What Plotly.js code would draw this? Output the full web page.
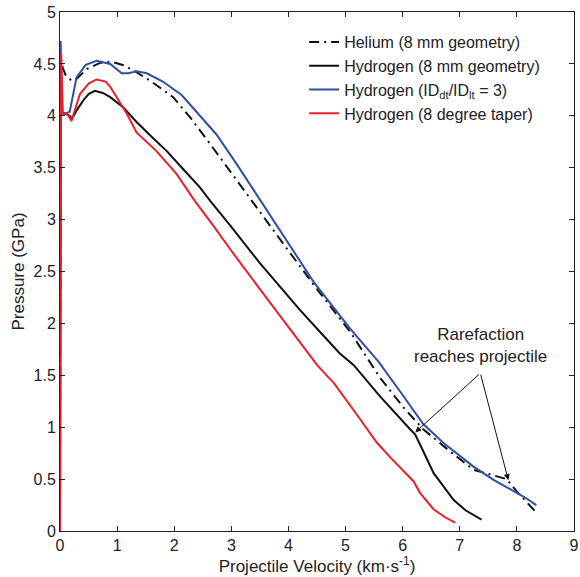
<!DOCTYPE html>
<html><head><meta charset="utf-8">
<script src="https://cdn.plot.ly/plotly-3.0.1.min.js"></script>
<style>html,body{margin:0;padding:0;background:#fff}#chart{width:580px;height:577px}</style>
</head><body><div id="chart"></div>
<script>
// Helium (8 mm geometry), dash-dot
const heV = [0, 0.01, 0.05, 0.1, 0.2, 0.3, 0.47, 0.7, 0.9, 1.1, 1.28, 1.6, 1.98, 2.3, 2.68, 3.0, 3.27, 3.6, 4.0, 4.5, 5.08, 5.6, 6.0, 6.36, 6.8, 7.24, 7.6, 7.82, 8.0, 8.15, 8.32];
const heP = [0, 4.57, 4.46, 4.39, 4.34, 4.36, 4.45, 4.51, 4.52, 4.49, 4.44, 4.33, 4.18, 3.97, 3.69, 3.45, 3.24, 2.99, 2.70, 2.33, 1.92, 1.48, 1.20, 0.98, 0.78, 0.59, 0.53, 0.50, 0.38, 0.29, 0.19];
// Hydrogen (8 mm geometry), solid black
const h8V = [0, 0.01, 0.03, 0.1, 0.17, 0.21, 0.3, 0.41, 0.5, 0.61, 0.75, 0.88, 1.11, 1.34, 1.6, 1.87, 2.15, 2.45, 2.63, 3.0, 3.5, 4.0, 4.2, 4.55, 4.9, 5.14, 5.6, 6.13, 6.22, 6.35, 6.54, 6.89, 7.1, 7.38];
const h8P = [0, 4.02, 4.03, 4.02, 4.00, 3.97, 4.06, 4.15, 4.21, 4.24, 4.22, 4.18, 4.08, 3.94, 3.80, 3.66, 3.49, 3.31, 3.18, 2.93, 2.58, 2.26, 2.13, 1.92, 1.71, 1.60, 1.30, 0.98, 0.93, 0.78, 0.56, 0.30, 0.20, 0.11];
// Hydrogen (ID_dt/ID_lt = 3), blue
const hidV = [0, 0.01, 0.04, 0.1, 0.17, 0.29, 0.45, 0.64, 0.88, 1.08, 1.2, 1.34, 1.52, 1.8, 2.13, 2.4, 2.74, 3.1, 3.44, 3.9, 4.44, 5.08, 5.58, 6.0, 6.36, 6.71, 7.24, 7.6, 7.94, 8.15, 8.34];
const hidP = [0, 4.72, 4.03, 4.02, 4.04, 4.37, 4.49, 4.53, 4.50, 4.41, 4.41, 4.43, 4.41, 4.33, 4.20, 4.03, 3.82, 3.53, 3.24, 2.85, 2.40, 1.95, 1.63, 1.31, 1.03, 0.85, 0.62, 0.49, 0.38, 0.32, 0.25];
// Hydrogen (8 degree taper), red
const htV = [0, 0.01, 0.02, 0.05, 0.1, 0.15, 0.2, 0.35, 0.5, 0.64, 0.8, 0.88, 0.99, 1.17, 1.34, 1.69, 2.04, 2.36, 2.7, 3.0, 3.5, 4.0, 4.2, 4.5, 4.7, 4.79, 5.2, 5.55, 5.8, 6.0, 6.19, 6.3, 6.54, 6.75, 6.92];
const htP = [0, 4.45, 4.60, 4.02, 4.02, 4.00, 3.95, 4.21, 4.31, 4.35, 4.33, 4.28, 4.18, 4.02, 3.84, 3.66, 3.44, 3.18, 2.93, 2.70, 2.33, 1.97, 1.82, 1.60, 1.48, 1.43, 1.12, 0.85, 0.70, 0.59, 0.48, 0.37, 0.21, 0.13, 0.08];

const names = ['Helium (8 mm geometry)', 'Hydrogen (8 mm geometry)', 'Hydrogen (ID<sub>dt</sub>/ID<sub>lt</sub> = 3)', 'Hydrogen (8 degree taper)'];
const xTicks = [0,1,2,3,4,5,6,7,8,9];
const yTicks = [0,0.5,1,1.5,2,2.5,3,3.5,4,4.5,5];
const yTickText = ['0','0.5','1','1.5','2','2.5','3','3.5','4','4.5','5'];
const noteText = 'Rarefaction<br>reaches projectile';
const noteX = 7.36, noteY = 1.79;
const arrowFrom = [7.36, 1.52];
const arrowHeads = [[6.22, 0.95], [7.85, 0.49]];

const FONT = 'Liberation Sans, Arial, sans-serif';
const traces = [
  {x: heV, y: heP, name: names[0], mode: 'lines', line: {color: '#111', width: 2, dash: '10px,5px,2px,5px'}},
  {x: h8V, y: h8P, name: names[1], mode: 'lines', line: {color: '#111', width: 2}},
  {x: hidV, y: hidP, name: names[2], mode: 'lines', line: {color: '#2f4fa6', width: 2}},
  {x: htV, y: htP, name: names[3], mode: 'lines', line: {color: '#e8202a', width: 2}}
];

const annotations = [
  {x: noteX, y: noteY, xref: 'x', yref: 'y', text: noteText, showarrow: false, font: {family: FONT, size: 17, color: '#222'}, align: 'center'}
].concat(arrowHeads.map(h => ({
  x: h[0], y: h[1], xref: 'x', yref: 'y', ax: arrowFrom[0], ay: arrowFrom[1], axref: 'x', ayref: 'y',
  text: '', showarrow: true, arrowhead: 2, arrowsize: 1.2, arrowwidth: 1, arrowcolor: '#111', standoff: 0
})));

const axisCommon = {
  showgrid: false, zeroline: false, showline: true, linecolor: '#222', linewidth: 1, mirror: 'ticks',
  ticks: 'inside', ticklen: 5, tickcolor: '#222', tickfont: {family: FONT, size: 16, color: '#222'}
};

const layout = {
  width: 580, height: 577,
  margin: {l: 60, r: 6, t: 12, b: 46},
  paper_bgcolor: '#fff', plot_bgcolor: '#fff',
  showlegend: true,
  legend: {x: 0.475, y: 0.975, xanchor: 'left', yanchor: 'top', bgcolor: 'rgba(0,0,0,0)', borderwidth: 0,
    font: {family: FONT, size: 16, color: '#222'}, tracegroupgap: 0},
  xaxis: Object.assign({}, axisCommon, {range: [0, 9], tickvals: xTicks, ticktext: xTicks.map(String),
    title: {text: 'Projectile Velocity (km·s<sup>-1</sup>)', font: {family: FONT, size: 17, color: '#222'}, standoff: 4}}),
  yaxis: Object.assign({}, axisCommon, {range: [0, 5], tickvals: yTicks, ticktext: yTickText,
    title: {text: 'Pressure (GPa)', font: {family: FONT, size: 17, color: '#222'}, standoff: 4}}),
  annotations: annotations
};

Plotly.newPlot('chart', traces, layout, {displayModeBar: false, staticPlot: true});
</script></body></html>
